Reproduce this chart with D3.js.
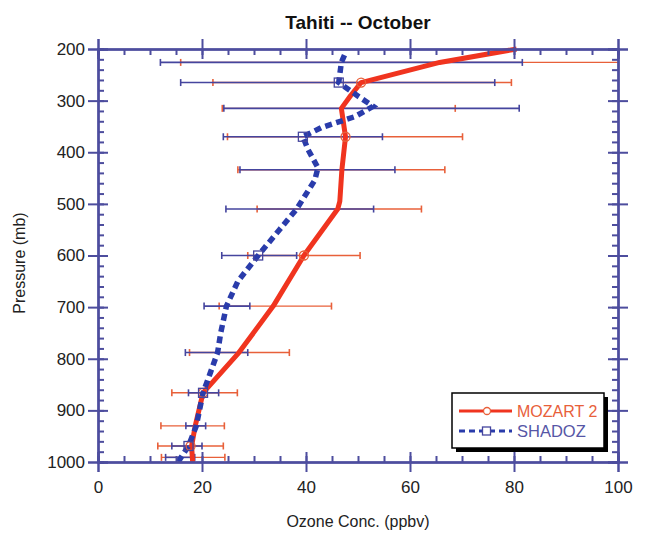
<!DOCTYPE html>
<html>
<head>
<meta charset="utf-8">
<script src="https://cdn.jsdelivr.net/npm/d3@7"></script>
<style>
  body { margin: 0; background: #ffffff; }
  svg { font-family: "Liberation Sans", Arial, sans-serif; }
</style>
</head>
<body>
<div id="vis"></div>
<script>
// Frame and margins
const FRAME_HEIGHT = 534;
const FRAME_WIDTH = 647;
const MARGINS = {left: 98, right: 29, top: 49, bottom: 72};

const VIS_HEIGHT = FRAME_HEIGHT - MARGINS.top - MARGINS.bottom;
const VIS_WIDTH = FRAME_WIDTH - MARGINS.left - MARGINS.right;

// Tick values
const PRESSURE_TICKS = [200, 300, 400, 500, 600, 700, 800, 900, 1000];
const OZONE_TICKS = [0, 20, 40, 60, 80, 100];

// Levels where the means and spreads are given
const LEVELS = [226, 265, 315, 370, 434, 510, 600, 698, 788, 866, 930, 969, 991];
const MOZART_MEAN = [65.7, 50.8, 46.3, 47.5, 46.8, 46.4, 39.6, 34.1, 27.2, 20.5, 18.2, 17.8, 18.3];
const MOZART_SD = [49.8, 28.7, 22.4, 22.6, 19.9, 15.8, 10.8, 10.8, 9.6, 6.3, 6.1, 6.3, 6.1];
const SHADOZ_MEAN = [46.8, 46.1, 52.6, 39.4, 42.2, 38.8, 31.0, 24.8, 22.8, 20.3, 18.8, 17.1, 15.8];
const SHADOZ_SD = [34.8, 30.2, 28.4, 15.3, 14.9, 14.2, 7.2, 4.4, 6.0, 2.9, 1.9, 2.9, 2.8];

// Mean profiles (lines)
const MOZART_P = [200, 226, 265, 290, 315, 370, 434, 495, 510, 600, 698, 788, 866, 930, 969, 1000];
const MOZART_O3 = [80.5, 65.7, 50.6, 48.6, 46.8, 47.6, 46.9, 46.5, 46.1, 39.6, 33.7, 27.1, 20.2, 18.7, 18.0, 18.2];
const SHADOZ_P = [212, 226, 265, 292, 311, 331, 352, 370, 395, 430, 454, 510, 550, 600, 650, 698, 750, 788, 830, 866, 930, 969, 1000];
const SHADOZ_O3 = [47.4, 46.8, 46.3, 50.1, 52.9, 49.4, 43.0, 39.4, 40.4, 42.3, 41.7, 38.2, 34.9, 30.8, 26.9, 24.7, 23.6, 23.0, 21.5, 20.2, 18.9, 17.4, 15.4];

// Marker positions
const MOZART_MARK_P = [265, 370, 600, 866, 969];
const MOZART_MARK_O3 = [50.6, 47.6, 39.6, 20.2, 17.8];
const SHADOZ_MARK_P = [265, 370, 600, 866, 969];
const SHADOZ_MARK_O3 = [46.3, 39.4, 30.8, 20.2, 17.4];

const AXIS_COLOR = "#4d4d9e";
const RED = "#f0341f";
const RED_BAR = "#e8603a";
const BLUE = "#2a3cab";
const BLUE_BAR = "#45459e";

const FRAME = d3.select("#vis")
                .append("svg")
                  .attr("height", FRAME_HEIGHT)
                  .attr("width", FRAME_WIDTH);

const X_SCALE = d3.scaleLinear()
                    .domain([0, 100])
                    .range([MARGINS.left, MARGINS.left + VIS_WIDTH]);

const Y_SCALE = d3.scaleLinear()
                    .domain([200, 1000])
                    .range([MARGINS.top, MARGINS.top + VIS_HEIGHT]);

const X_MINOR = d3.range(0, 101, 5);
const Y_MINOR = d3.range(200, 1001, 20);

const X0 = MARGINS.left, X1 = MARGINS.left + VIS_WIDTH;
const Y0 = MARGINS.top, Y1 = MARGINS.top + VIS_HEIGHT;

// clip for the data
FRAME.append("clipPath").attr("id", "plotclip")
  .append("rect")
    .attr("x", X0).attr("y", Y0 - 3)
    .attr("width", VIS_WIDTH).attr("height", VIS_HEIGHT + 3);

// error bars, red first then blue on top
function errorBars(means, sds, color, width, cls) {
  const rows = LEVELS.map((p, i) => ({p: p, lo: means[i] - sds[i], hi: means[i] + sds[i]}));
  const g = FRAME.append("g").attr("clip-path", "url(#plotclip)");
  g.selectAll("." + cls + "-bar")
    .data(rows)
    .enter()
    .append("line")
      .attr("x1", (d) => X_SCALE(Math.max(0, d.lo)))
      .attr("x2", (d) => X_SCALE(Math.min(100, d.hi)))
      .attr("y1", (d) => Y_SCALE(d.p))
      .attr("y2", (d) => Y_SCALE(d.p))
      .attr("stroke", color)
      .attr("stroke-width", width);
  const caps = [];
  rows.forEach((d) => {
    if (d.lo >= 0) caps.push({p: d.p, v: d.lo});
    if (d.hi <= 100) caps.push({p: d.p, v: d.hi});
  });
  g.selectAll("." + cls + "-cap")
    .data(caps)
    .enter()
    .append("line")
      .attr("x1", (d) => X_SCALE(d.v))
      .attr("x2", (d) => X_SCALE(d.v))
      .attr("y1", (d) => Y_SCALE(d.p) - 3.5)
      .attr("y2", (d) => Y_SCALE(d.p) + 3.5)
      .attr("stroke", color)
      .attr("stroke-width", 1.6);
}

errorBars(MOZART_MEAN, MOZART_SD, RED_BAR, 1.4, "moz");
errorBars(SHADOZ_MEAN, SHADOZ_SD, BLUE_BAR, 1.6, "sha");

// mean profiles
const LINE = d3.line()
               .x((d) => X_SCALE(d[1]))
               .y((d) => Y_SCALE(d[0]));

const LINES = FRAME.append("g").attr("clip-path", "url(#plotclip)");

LINES.append("path")
  .datum(d3.zip(MOZART_P, MOZART_O3))
  .attr("d", LINE)
  .attr("fill", "none")
  .attr("stroke", RED)
  .attr("stroke-width", 5)
  .attr("stroke-linejoin", "round");

LINES.append("path")
  .datum(d3.zip(SHADOZ_P, SHADOZ_O3))
  .attr("d", LINE)
  .attr("fill", "none")
  .attr("stroke", BLUE)
  .attr("stroke-width", 5.5)
  .attr("stroke-dasharray", "7,4.5");

// markers
FRAME.selectAll(".moz-mark")
  .data(d3.zip(MOZART_MARK_P, MOZART_MARK_O3))
  .enter()
  .append("circle")
    .attr("cx", (d) => X_SCALE(d[1]))
    .attr("cy", (d) => Y_SCALE(d[0]))
    .attr("r", 4.5)
    .attr("fill", "none")
    .attr("stroke", RED_BAR)
    .attr("stroke-width", 1.3);

FRAME.selectAll(".sha-mark")
  .data(d3.zip(SHADOZ_MARK_P, SHADOZ_MARK_O3))
  .enter()
  .append("rect")
    .attr("x", (d) => X_SCALE(d[1]) - 4.5)
    .attr("y", (d) => Y_SCALE(d[0]) - 4.5)
    .attr("width", 9)
    .attr("height", 9)
    .attr("fill", "none")
    .attr("stroke", BLUE_BAR)
    .attr("stroke-width", 1.3);

// axes: major ticks cross the frame, minor ticks point inward
function styleAxis(g) {
  g.select(".domain").attr("stroke", AXIS_COLOR).attr("stroke-width", 2);
  g.selectAll(".tick line").attr("stroke", AXIS_COLOR).attr("stroke-width", 2);
  g.selectAll(".tick text")
    .attr("fill", "#222")
    .attr("font-size", "17px");
}

function addAxis(axisFn, scale, pos, majors, minors, showLabels) {
  const t = axisFn === d3.axisLeft || axisFn === d3.axisRight
              ? "translate(" + pos + ",0)" : "translate(0," + pos + ")";
  FRAME.append("g").attr("transform", t)
    .call(axisFn(scale).tickValues(minors).tickSize(-6).tickFormat(""))
    .call(styleAxis);
  FRAME.append("g").attr("transform", t)
    .call(axisFn(scale).tickValues(majors).tickSize(-10).tickFormat(""))
    .call(styleAxis);
  return FRAME.append("g").attr("transform", t)
    .call(axisFn(scale).tickValues(majors).tickSize(10).tickPadding(showLabels ? 3 : 0)
            .tickFormat(showLabels ? d3.format("d") : ""))
    .call(styleAxis);
}

addAxis(d3.axisLeft, Y_SCALE, X0, PRESSURE_TICKS, Y_MINOR, true);
addAxis(d3.axisRight, Y_SCALE, X1, PRESSURE_TICKS, Y_MINOR, false);
addAxis(d3.axisTop, X_SCALE, Y0, OZONE_TICKS, X_MINOR, false);
const BOTTOM = addAxis(d3.axisBottom, X_SCALE, Y1, OZONE_TICKS, X_MINOR, true);

// bottom labels sit a bit lower
BOTTOM.selectAll(".tick text").attr("y", 19);

// title and axis labels
FRAME.append("text")
  .attr("x", (X0 + X1) / 2)
  .attr("y", 29)
  .attr("text-anchor", "middle")
  .attr("font-size", "19px")
  .attr("font-weight", "bold")
  .attr("fill", "#111")
  .text("Tahiti -- October");

FRAME.append("text")
  .attr("x", (X0 + X1) / 2)
  .attr("y", 527)
  .attr("text-anchor", "middle")
  .attr("font-size", "16px")
  .attr("fill", "#222")
  .text("Ozone Conc. (ppbv)");

FRAME.append("text")
  .attr("transform", "translate(25," + 263 + ") rotate(-90)")
  .attr("text-anchor", "middle")
  .attr("font-size", "16px")
  .attr("fill", "#222")
  .text("Pressure (mb)");

// legend
const LEGEND = FRAME.append("g").attr("transform", "translate(452,393)");

LEGEND.append("rect")
  .attr("x", 4).attr("y", 4)
  .attr("width", 152).attr("height", 55)
  .attr("fill", "#000");

LEGEND.append("rect")
  .attr("x", 0).attr("y", 0)
  .attr("width", 152).attr("height", 55)
  .attr("fill", "#fff")
  .attr("stroke", "#000")
  .attr("stroke-width", 1.5);

LEGEND.append("line")
  .attr("x1", 7).attr("x2", 60).attr("y1", 18).attr("y2", 18)
  .attr("stroke", RED).attr("stroke-width", 3);
LEGEND.append("circle")
  .attr("cx", 35).attr("cy", 18).attr("r", 3.5)
  .attr("fill", "#fff").attr("stroke", RED_BAR).attr("stroke-width", 1.3);
LEGEND.append("text")
  .attr("x", 65).attr("y", 24)
  .attr("font-size", "16px")
  .attr("fill", RED_BAR)
  .text("MOZART 2");

LEGEND.append("line")
  .attr("x1", 7).attr("x2", 60).attr("y1", 38).attr("y2", 38)
  .attr("stroke", BLUE).attr("stroke-width", 3)
  .attr("stroke-dasharray", "6,4");
LEGEND.append("rect")
  .attr("x", 30.5).attr("y", 34).attr("width", 8).attr("height", 8)
  .attr("fill", "#fff").attr("stroke", BLUE_BAR).attr("stroke-width", 1.3);
LEGEND.append("text")
  .attr("x", 65).attr("y", 44)
  .attr("font-size", "16.5px")
  .attr("fill", "#5656a6")
  .text("SHADOZ");
</script>
</body>
</html>
